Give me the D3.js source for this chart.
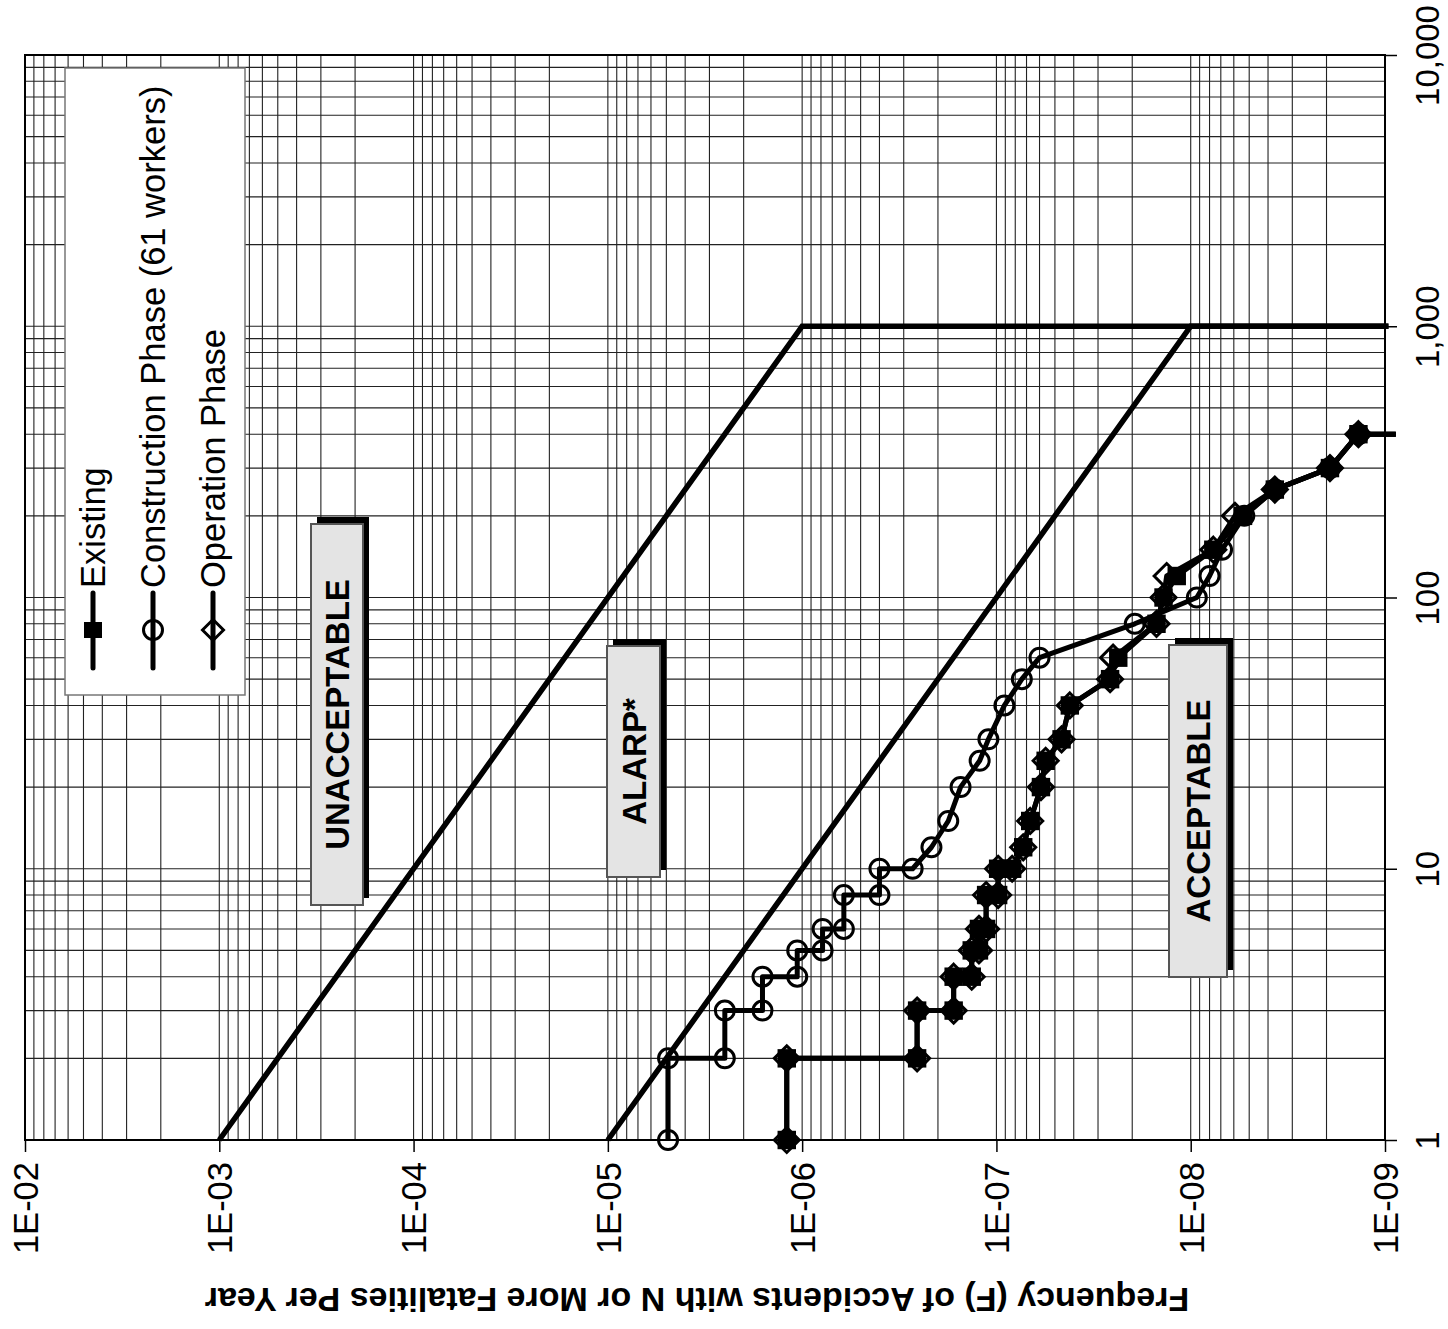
<!DOCTYPE html>
<html>
<head>
<meta charset="utf-8">
<script src="https://cdn.jsdelivr.net/npm/d3@7"></script>
<style>
  body { margin: 0; background: #fff; }
  text { font-family: "Liberation Sans", Arial, sans-serif; }
</style>
</head>
<body>
<script>
// F-N curve, drawn rotated: N runs up the page, F runs left->right (decreasing)
var fTicks = [1e-2, 1e-3, 1e-4, 1e-5, 1e-6, 1e-7, 1e-8, 1e-9];
var fLabels = ["1E-02", "1E-03", "1E-04", "1E-05", "1E-06", "1E-07", "1E-08", "1E-09"];
var nTicks = [1, 10, 100, 1000, 10000];
var nLabels = ["1", "10", "100", "1,000", "10,000"];

// criterion lines [F, N]
var upperLimit = [[1e-3, 1], [1e-6, 1000], [9.6e-10, 1000]];
var lowerLimit = [[1e-5, 1], [1e-8, 1000], [9.6e-10, 1000]];

// series [F, N]
var existing = [[1.2e-6,1],[1.2e-6,2],[2.56e-7,2],[2.56e-7,3],[1.66e-7,3],[1.66e-7,4],
  [1.34e-7,4],[1.34e-7,5],[1.23e-7,5],[1.23e-7,6],[1.13e-7,6],[1.13e-7,8],[9.8e-8,8],
  [9.8e-8,10],[8.3e-8,10],[7.28e-8,12],[6.7e-8,15],[5.9e-8,20],[5.58e-8,25],[4.62e-8,30],
  [4.19e-8,40],[2.6e-8,50],[2.36e-8,60],[1.5e-8,80],[1.38e-8,100],[1.18e-8,120],
  [7.65e-9,150],[5.38e-9,200],[3.69e-9,250],[1.92e-9,300],[1.37e-9,400],[8.8e-10,400]];
var construction = [[4.9e-6,1],[4.9e-6,2],[2.5e-6,2],[2.5e-6,3],[1.6e-6,3],[1.6e-6,4],
  [1.06e-6,4],[1.06e-6,5],[7.85e-7,5],[7.85e-7,6],[6.1e-7,6],[6.1e-7,8],[4.0e-7,8],
  [4.0e-7,10],[2.7e-7,10],[2.16e-7,12],[1.77e-7,15],[1.53e-7,20],[1.22e-7,25],[1.1e-7,30],
  [9.1e-8,40],[7.4e-8,50],[6.0e-8,60],[1.94e-8,80],[9.3e-9,100],[8.0e-9,120],
  [6.9e-9,150],[5.3e-9,200],[3.69e-9,250],[1.92e-9,300],[1.37e-9,400],[8.8e-10,400]];
var operation = [[1.2e-6,1],[1.2e-6,2],[2.56e-7,2],[2.56e-7,3],[1.66e-7,3],[1.66e-7,4],
  [1.34e-7,4],[1.34e-7,5],[1.23e-7,5],[1.23e-7,6],[1.13e-7,6],[1.13e-7,8],[9.8e-8,8],
  [9.8e-8,10],[8.3e-8,10],[7.28e-8,12],[6.7e-8,15],[5.9e-8,20],[5.58e-8,25],[4.62e-8,30],
  [4.19e-8,40],[2.6e-8,50],[2.51e-8,60],[1.5e-8,80],[1.38e-8,100],[1.33e-8,120],
  [7.65e-9,150],[5.92e-9,200],[3.69e-9,250],[1.92e-9,300],[1.37e-9,400],[8.8e-10,400]];

var seriesNames = ["Existing", "Construction Phase (61 workers)", "Operation Phase"];

var W = 1448, H = 1329;
var svg = d3.select("body").append("svg").attr("width", W).attr("height", H);

var x = d3.scaleLog().domain([1e-2, 1e-9]).range([25, 1385]);
var y = d3.scaleLog().domain([1, 10000]).range([1140, 55]);

// grid
var fGrid = [], nGrid = [];
for (var e = -9; e < -2; e++) for (var k = 1; k < 10; k++) fGrid.push(k * Math.pow(10, e));
for (var e2 = 0; e2 < 4; e2++) for (var k2 = 1; k2 < 10; k2++) nGrid.push(k2 * Math.pow(10, e2));
var grid = svg.append("g");
grid.selectAll("line.v").data(fGrid).enter().append("line")
  .attr("x1", d => x(d)).attr("x2", d => x(d)).attr("y1", y(1)).attr("y2", y(10000))
  .attr("stroke", "#222").attr("stroke-width", 1.1);
grid.selectAll("line.h").data(nGrid).enter().append("line")
  .attr("y1", d => y(d)).attr("y2", d => y(d)).attr("x1", x(1e-2)).attr("x2", x(1e-9))
  .attr("stroke", "#222").attr("stroke-width", 1.1);

// frame
svg.append("rect").attr("x", 25).attr("y", 55).attr("width", 1360).attr("height", 1085)
  .attr("fill", "none").attr("stroke", "#000").attr("stroke-width", 2);

// axes
var fAxis = svg.append("g").attr("transform", "translate(0,1140)")
  .call(d3.axisBottom(x).tickValues(fTicks).tickFormat((d, i) => fLabels[i]).tickSize(12).tickSizeOuter(0));
fAxis.select(".domain").remove();
fAxis.selectAll("line").attr("stroke", "#000").attr("stroke-width", 1.5);
fAxis.selectAll("text")
  .attr("transform", "rotate(-90)").attr("text-anchor", "end")
  .attr("x", -22).attr("y", 0).attr("dy", "0.36em")
  .attr("font-size", 34.5).attr("fill", "#000")
  .style("font-family", "'Liberation Sans', Arial, sans-serif");

var nAxis = svg.append("g").attr("transform", "translate(1385,0)")
  .call(d3.axisRight(y).tickValues(nTicks).tickFormat((d, i) => nLabels[i]).tickSize(12).tickSizeOuter(0));
nAxis.select(".domain").remove();
nAxis.selectAll("line").attr("stroke", "#000").attr("stroke-width", 1.5);
nAxis.selectAll("text")
  .attr("transform", "rotate(-90)").attr("text-anchor", "middle")
  .attr("x", 0).attr("y", 54).attr("dy", 0)
  .attr("font-size", 33).attr("fill", "#000")
  .style("font-family", "'Liberation Sans', Arial, sans-serif");

// axis title (upside down)
svg.append("text").attr("transform", "translate(697,1288) rotate(180)")
  .attr("text-anchor", "middle").attr("font-size", 34).attr("font-weight", "bold")
  .text("Frequency (F) of Accidents with N or More Fatalities Per Year");

// region labels
var regions = [
  {t: "UNACCEPTABLE", x: 311, y: 524, w: 52, h: 381},
  {t: "ALARP*", x: 607, y: 646, w: 53, h: 231},
  {t: "ACCEPTABLE", x: 1169, y: 645, w: 58, h: 332}
];
regions.forEach(function(r) {
  svg.append("rect").attr("x", r.x + 6).attr("y", r.y - 7).attr("width", r.w).attr("height", r.h)
    .attr("fill", "#000");
  svg.append("rect").attr("x", r.x).attr("y", r.y).attr("width", r.w).attr("height", r.h)
    .attr("fill", "#e4e4e4").attr("stroke", "#555").attr("stroke-width", 2);
  svg.append("text")
    .attr("transform", "translate(" + (r.x + r.w / 2 + 12) + "," + (r.y + r.h / 2) + ") rotate(-90)")
    .attr("text-anchor", "middle").attr("font-size", 33).attr("font-weight", "bold")
    .text(r.t);
});

// criterion lines
var line = d3.line().x(d => x(d[0])).y(d => y(d[1]));
[upperLimit, lowerLimit].forEach(function(l) {
  svg.append("path").attr("d", line(l)).attr("fill", "none")
    .attr("stroke", "#000").attr("stroke-width", 5.5);
});

// series lines
[existing, construction, operation].forEach(function(s) {
  svg.append("path").attr("d", line(s)).attr("fill", "none")
    .attr("stroke", "#000").attr("stroke-width", 5).attr("stroke-linejoin", "round");
});

var sq = d3.symbol().type(d3.symbolSquare).size(340);
var dia = function(r) { return "M0," + (-r) + "L" + r + ",0L0," + r + "L" + (-r) + ",0Z"; };
function inPlot(d) { return d[0] >= 1e-9; }

svg.append("g").selectAll("path").data(existing.filter(inPlot)).enter().append("path")
  .attr("transform", d => "translate(" + x(d[0]) + "," + y(d[1]) + ")")
  .attr("d", sq).attr("fill", "#000");
svg.append("g").selectAll("circle").data(construction.filter(inPlot)).enter().append("circle")
  .attr("cx", d => x(d[0])).attr("cy", d => y(d[1])).attr("r", 9.5)
  .attr("fill", "none").attr("stroke", "#000").attr("stroke-width", 3);
svg.append("g").selectAll("path").data(operation.filter(inPlot)).enter().append("path")
  .attr("transform", d => "translate(" + x(d[0]) + "," + y(d[1]) + ")")
  .attr("d", dia(12.5)).attr("fill", "none").attr("stroke", "#000").attr("stroke-width", 3);

// legend
var lg = svg.append("g");
lg.append("rect").attr("x", 65).attr("y", 68).attr("width", 180).attr("height", 627)
  .attr("fill", "#fff").attr("stroke", "#777").attr("stroke-width", 1.5);
var legX = [93, 153, 213];
seriesNames.forEach(function(name, i) {
  var cx = legX[i], cy = 630;
  lg.append("line").attr("x1", cx).attr("x2", cx).attr("y1", 593).attr("y2", 668)
    .attr("stroke", "#000").attr("stroke-width", 5).attr("stroke-linecap", "round");
  if (i === 0) {
    lg.append("rect").attr("x", cx - 9).attr("y", cy - 8).attr("width", 18).attr("height", 16).attr("fill", "#000");
  } else if (i === 1) {
    lg.append("circle").attr("cx", cx).attr("cy", cy).attr("r", 9.5)
      .attr("fill", "none").attr("stroke", "#000").attr("stroke-width", 3);
  } else {
    lg.append("path").attr("transform", "translate(" + cx + "," + cy + ")").attr("d", dia(10.5))
      .attr("fill", "none").attr("stroke", "#000").attr("stroke-width", 3);
  }
  lg.append("text").attr("transform", "translate(" + (cx + 12) + ",588) rotate(-90)")
    .attr("text-anchor", "start").attr("font-size", 34.5).text(name);
});
</script>
</body>
</html>
